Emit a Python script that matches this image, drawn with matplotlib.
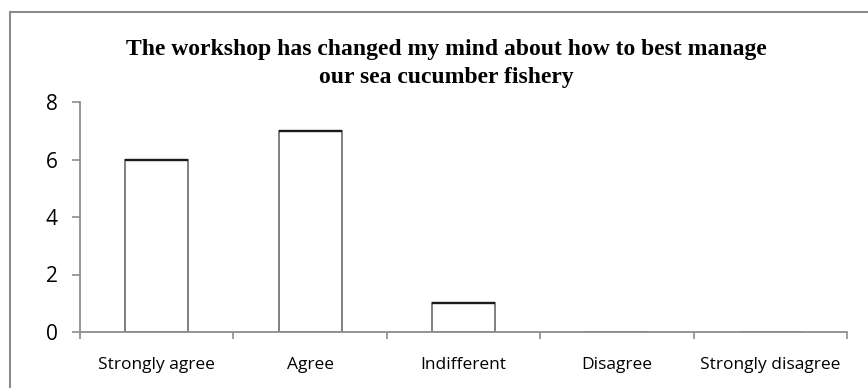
import matplotlib
matplotlib.use("Agg")
import matplotlib.pyplot as plt
from matplotlib.patches import Rectangle

categories = ["Strongly agree", "Agree", "Indifferent", "Disagree", "Strongly disagree"]
counts = [6, 7, 1, 0, 0]
y_ticks = [0, 2, 4, 6, 8]
title_lines = ["The workshop has changed my mind about how to best manage",
               "our sea cucumber fishery"]

W, H = 868, 388
fig = plt.figure(figsize=(W / 100, H / 100), dpi=100)

# chart-area frame
fig.patches.append(Rectangle((10 / W, -0.1), 1.2, 1.1 - 12 / H, transform=fig.transFigure,
                             fill=False, edgecolor="#8c8c8c", linewidth=1.5, zorder=0))

left, right = 80 / W, 847 / W
bottom, top = 1 - 332 / H, 1 - 102 / H
ax = fig.add_axes([left, bottom, right - left, top - bottom])

x = range(len(categories))
bw = 0.41
ax.bar(x, counts, width=bw, color="white", edgecolor="#808080", linewidth=1.4, zorder=2)
# darker top edge on each bar
for xi, v in zip(x, counts):
    if v > 0:
        ax.plot([xi - bw / 2, xi + bw / 2], [v, v], color="#1a1a1a", linewidth=1.7, zorder=3,
                solid_capstyle="butt")

ax.set_xlim(-0.5, len(categories) - 0.5)
ax.set_ylim(0, 8)
ax.set_yticks(y_ticks)
ax.set_yticklabels([str(t) for t in y_ticks], fontsize=15, family="Open Sans")
ax.set_xticks([i - 0.5 for i in range(len(categories) + 1)])
ax.set_xticklabels([])
ax.set_xticks(list(x), minor=True)
ax.set_xticklabels(categories, minor=True, fontsize=12.5, family="Open Sans")
ax.tick_params(axis="x", which="minor", length=0, pad=18)
ax.tick_params(axis="x", which="major", length=5, direction="out", color="#8c8c8c", width=1.2)
ax.tick_params(axis="y", length=6, direction="out", color="#8c8c8c", width=1.2, pad=10)

for s in ["top", "right"]:
    ax.spines[s].set_visible(False)
for s in ["left", "bottom"]:
    ax.spines[s].set_color("#8c8c8c")
    ax.spines[s].set_linewidth(1.3)

for line, base in zip(title_lines, [55, 83]):
    fig.text(446 / W, 1 - base / H, line, ha="center", va="baseline", fontsize=17,
             fontweight="bold", family="Liberation Serif")

fig.savefig("out.png", dpi=100)
